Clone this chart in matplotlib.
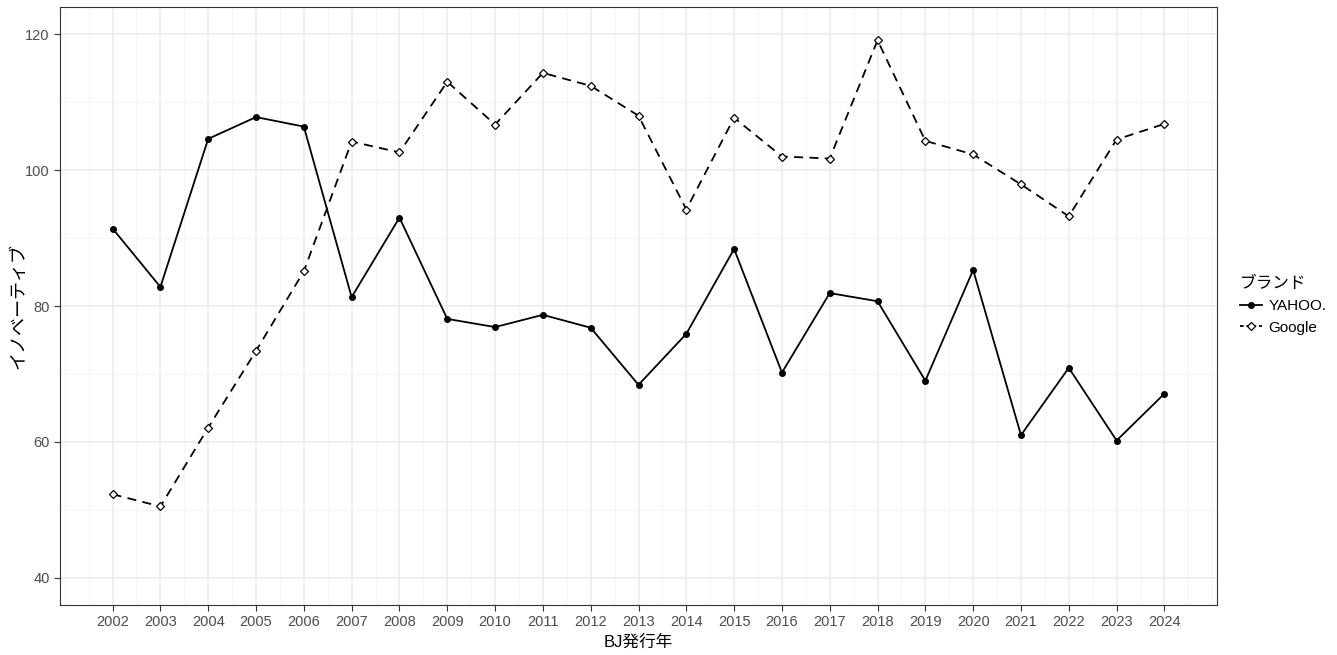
import matplotlib
matplotlib.use("Agg")
import matplotlib.pyplot as plt
from matplotlib.ticker import MultipleLocator
from matplotlib.lines import Line2D

plt.rcParams['font.family'] = ['Liberation Sans', 'Noto Sans CJK JP', 'DejaVu Sans']

years = list(range(2002, 2025))
yahoo = [91.4, 82.8, 104.6, 107.8, 106.4, 81.3, 93.0, 78.1, 76.9, 78.7, 76.8, 68.4,
         75.9, 88.4, 70.2, 81.9, 80.7, 69.0, 85.3, 61.0, 70.9, 60.2, 67.1]
google = [52.3, 50.5, 62.1, 73.4, 85.1, 104.2, 102.6, 113.0, 106.7, 114.3, 112.4, 108.0,
          94.2, 107.7, 102.0, 101.7, 119.1, 104.3, 102.3, 97.9, 93.2, 104.5, 106.8]
series_names = ["YAHOO.", "Google"]
legend_title = "ブランド"
x_label = "BJ発行年"
y_label = "イノベーティブ"
y_ticks = [40, 60, 80, 100, 120]

fig = plt.figure(figsize=(13.37, 6.55), dpi=100)
ax = fig.add_axes([60/1337, 1-605/655, (1217-60)/1337, (605-7)/655])

ax.plot(years, yahoo, color='black', lw=1.3, marker='o', ms=4, zorder=3)
ax.plot(years, google, color='black', lw=1.3, ls=(0, (5, 3.5)), marker='D', ms=4.5,
        mfc='white', mec='black', mew=0.9, zorder=3)

ax.set_xlim(2002 - 1.1, 2024 + 1.1)
ax.set_ylim(36, 124)
ax.set_xticks(years)
ax.set_xticklabels([str(y) for y in years])
ax.set_yticks(y_ticks)
ax.xaxis.set_minor_locator(MultipleLocator(0.5))
ax.yaxis.set_minor_locator(MultipleLocator(10))
ax.grid(True, which='major', color='#EBEBEB', lw=1.1, zorder=0)
ax.grid(True, which='minor', color='#F4F4F4', lw=0.6, zorder=0)
ax.set_axisbelow(True)
ax.tick_params(axis='both', which='major', labelsize=10.5, labelcolor='#4D4D4D',
               color='#333333', length=4, width=0.8)
ax.tick_params(axis='both', which='minor', length=0)
for s in ax.spines.values():
    s.set_color('#333333')
    s.set_linewidth(0.8)

ax.set_xlabel(x_label, fontsize=12, labelpad=4)
ax.set_ylabel(y_label, fontsize=13)
ax.yaxis.set_label_coords(-33/1157, 0.5)

handles = [Line2D([], [], color='black', lw=1.3, marker='o', ms=4),
           Line2D([], [], color='black', lw=1.3, ls=(0, (2, 1.5)), marker='D', ms=4.5,
                  mfc='white', mec='black', mew=0.9)]
leg = fig.legend(handles, series_names, title=legend_title, loc='upper left',
                 bbox_to_anchor=(1234/1337, 1-270/655), frameon=False, fontsize=11,
                 title_fontsize=12, handlelength=1.4, handletextpad=0.45,
                 labelspacing=0.5, borderaxespad=0, alignment='left')

fig.savefig('out.png', dpi=100)
